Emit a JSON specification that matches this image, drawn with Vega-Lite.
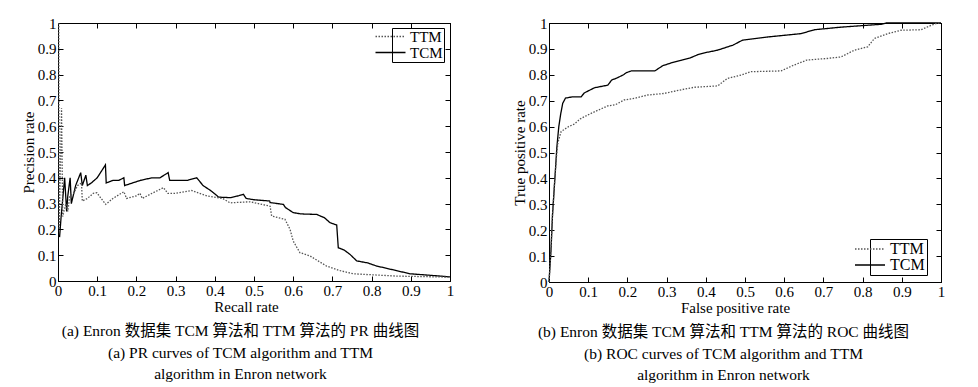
{
  "$schema": "https://vega.github.io/schema/vega-lite/v6.json",
  "background": "white",
  "padding": {"left": 20, "top": 15, "right": 5, "bottom": 0},
  "config": {
    "font": "Liberation Serif, Noto Sans CJK SC",
    "view": {"stroke": "black", "strokeWidth": 1},
    "legend": {
      "strokeColor": "black",
      "fillColor": "white",
      "padding": 1,
      "labelFont": "Liberation Serif",
      "labelFontSize": 15,
      "labelColor": "black",
      "symbolType": "M-5,0H1",
      "symbolSize": 100,
      "symbolStrokeWidth": 1.3,
      "rowPadding": -3,
      "labelOffset": 2,
      "title": null
    },
    "title": {
      "font": "Liberation Serif, Noto Sans CJK SC",
      "fontSize": 15.5,
      "fontWeight": "normal",
      "color": "black",
      "lineHeight": 21.5
    }
  },
  "datasets": {
    "pr": [
      {"i": 1, "m": "TCM", "r": 0.004, "p": 0.17},
      {"i": 2, "m": "TCM", "r": 0.008, "p": 0.25},
      {"i": 3, "m": "TCM", "r": 0.017, "p": 0.40},
      {"i": 4, "m": "TCM", "r": 0.022, "p": 0.27},
      {"i": 5, "m": "TCM", "r": 0.025, "p": 0.33},
      {"i": 6, "m": "TCM", "r": 0.031, "p": 0.40},
      {"i": 7, "m": "TCM", "r": 0.034, "p": 0.30},
      {"i": 8, "m": "TCM", "r": 0.045, "p": 0.37},
      {"i": 9, "m": "TCM", "r": 0.058, "p": 0.42},
      {"i": 10, "m": "TCM", "r": 0.062, "p": 0.37},
      {"i": 11, "m": "TCM", "r": 0.071, "p": 0.41},
      {"i": 12, "m": "TCM", "r": 0.075, "p": 0.37},
      {"i": 13, "m": "TCM", "r": 0.085, "p": 0.38},
      {"i": 14, "m": "TCM", "r": 0.10, "p": 0.40},
      {"i": 15, "m": "TCM", "r": 0.121, "p": 0.45},
      {"i": 16, "m": "TCM", "r": 0.123, "p": 0.38},
      {"i": 17, "m": "TCM", "r": 0.14, "p": 0.39},
      {"i": 18, "m": "TCM", "r": 0.155, "p": 0.39},
      {"i": 19, "m": "TCM", "r": 0.168, "p": 0.40},
      {"i": 20, "m": "TCM", "r": 0.17, "p": 0.37},
      {"i": 21, "m": "TCM", "r": 0.19, "p": 0.38},
      {"i": 22, "m": "TCM", "r": 0.21, "p": 0.39},
      {"i": 23, "m": "TCM", "r": 0.24, "p": 0.40},
      {"i": 24, "m": "TCM", "r": 0.26, "p": 0.40},
      {"i": 25, "m": "TCM", "r": 0.281, "p": 0.42},
      {"i": 26, "m": "TCM", "r": 0.285, "p": 0.39},
      {"i": 27, "m": "TCM", "r": 0.31, "p": 0.39},
      {"i": 28, "m": "TCM", "r": 0.33, "p": 0.39},
      {"i": 29, "m": "TCM", "r": 0.354, "p": 0.40},
      {"i": 30, "m": "TCM", "r": 0.37, "p": 0.37},
      {"i": 31, "m": "TCM", "r": 0.39, "p": 0.35},
      {"i": 32, "m": "TCM", "r": 0.41, "p": 0.325},
      {"i": 33, "m": "TCM", "r": 0.44, "p": 0.323},
      {"i": 34, "m": "TCM", "r": 0.46, "p": 0.33},
      {"i": 35, "m": "TCM", "r": 0.473, "p": 0.336},
      {"i": 36, "m": "TCM", "r": 0.48, "p": 0.32},
      {"i": 37, "m": "TCM", "r": 0.50, "p": 0.315},
      {"i": 38, "m": "TCM", "r": 0.54, "p": 0.31},
      {"i": 39, "m": "TCM", "r": 0.541, "p": 0.304},
      {"i": 40, "m": "TCM", "r": 0.575, "p": 0.297},
      {"i": 41, "m": "TCM", "r": 0.58, "p": 0.285},
      {"i": 42, "m": "TCM", "r": 0.60, "p": 0.265},
      {"i": 43, "m": "TCM", "r": 0.62, "p": 0.26},
      {"i": 44, "m": "TCM", "r": 0.66, "p": 0.258},
      {"i": 45, "m": "TCM", "r": 0.68, "p": 0.245},
      {"i": 46, "m": "TCM", "r": 0.694, "p": 0.226},
      {"i": 47, "m": "TCM", "r": 0.711, "p": 0.217},
      {"i": 48, "m": "TCM", "r": 0.715, "p": 0.129},
      {"i": 49, "m": "TCM", "r": 0.73, "p": 0.12},
      {"i": 50, "m": "TCM", "r": 0.745, "p": 0.103},
      {"i": 51, "m": "TCM", "r": 0.762, "p": 0.078},
      {"i": 52, "m": "TCM", "r": 0.79, "p": 0.07},
      {"i": 53, "m": "TCM", "r": 0.813, "p": 0.058},
      {"i": 54, "m": "TCM", "r": 0.85, "p": 0.045},
      {"i": 55, "m": "TCM", "r": 0.898, "p": 0.028},
      {"i": 56, "m": "TCM", "r": 0.95, "p": 0.022},
      {"i": 57, "m": "TCM", "r": 1.0, "p": 0.016},
      {"i": 101, "m": "TTM", "r": 0.002, "p": 1.0},
      {"i": 102, "m": "TTM", "r": 0.003, "p": 0.20},
      {"i": 103, "m": "TTM", "r": 0.009, "p": 0.67},
      {"i": 104, "m": "TTM", "r": 0.012, "p": 0.25},
      {"i": 105, "m": "TTM", "r": 0.02, "p": 0.30},
      {"i": 106, "m": "TTM", "r": 0.025, "p": 0.27},
      {"i": 107, "m": "TTM", "r": 0.03, "p": 0.33},
      {"i": 108, "m": "TTM", "r": 0.04, "p": 0.34},
      {"i": 109, "m": "TTM", "r": 0.05, "p": 0.37},
      {"i": 110, "m": "TTM", "r": 0.060, "p": 0.38},
      {"i": 111, "m": "TTM", "r": 0.062, "p": 0.31},
      {"i": 112, "m": "TTM", "r": 0.075, "p": 0.32},
      {"i": 113, "m": "TTM", "r": 0.09, "p": 0.34},
      {"i": 114, "m": "TTM", "r": 0.099, "p": 0.342},
      {"i": 115, "m": "TTM", "r": 0.11, "p": 0.32},
      {"i": 116, "m": "TTM", "r": 0.122, "p": 0.297},
      {"i": 117, "m": "TTM", "r": 0.14, "p": 0.32},
      {"i": 118, "m": "TTM", "r": 0.168, "p": 0.346},
      {"i": 119, "m": "TTM", "r": 0.175, "p": 0.32},
      {"i": 120, "m": "TTM", "r": 0.2, "p": 0.33},
      {"i": 121, "m": "TTM", "r": 0.209, "p": 0.34},
      {"i": 122, "m": "TTM", "r": 0.215, "p": 0.32},
      {"i": 123, "m": "TTM", "r": 0.24, "p": 0.34},
      {"i": 124, "m": "TTM", "r": 0.269, "p": 0.362},
      {"i": 125, "m": "TTM", "r": 0.28, "p": 0.34},
      {"i": 126, "m": "TTM", "r": 0.30, "p": 0.34},
      {"i": 127, "m": "TTM", "r": 0.341, "p": 0.351},
      {"i": 128, "m": "TTM", "r": 0.36, "p": 0.34},
      {"i": 129, "m": "TTM", "r": 0.38, "p": 0.33},
      {"i": 130, "m": "TTM", "r": 0.42, "p": 0.32},
      {"i": 131, "m": "TTM", "r": 0.439, "p": 0.303},
      {"i": 132, "m": "TTM", "r": 0.49, "p": 0.307},
      {"i": 133, "m": "TTM", "r": 0.541, "p": 0.29},
      {"i": 134, "m": "TTM", "r": 0.545, "p": 0.252},
      {"i": 135, "m": "TTM", "r": 0.579, "p": 0.239},
      {"i": 136, "m": "TTM", "r": 0.592, "p": 0.20},
      {"i": 137, "m": "TTM", "r": 0.60, "p": 0.155},
      {"i": 138, "m": "TTM", "r": 0.617, "p": 0.11},
      {"i": 139, "m": "TTM", "r": 0.643, "p": 0.097},
      {"i": 140, "m": "TTM", "r": 0.685, "p": 0.058},
      {"i": 141, "m": "TTM", "r": 0.72, "p": 0.04},
      {"i": 142, "m": "TTM", "r": 0.753, "p": 0.028},
      {"i": 143, "m": "TTM", "r": 0.864, "p": 0.019},
      {"i": 144, "m": "TTM", "r": 1.0, "p": 0.015}
    ],
    "roc": [
      {"i": 1, "m": "TCM", "f": 0, "t": 0},
      {"i": 2, "m": "TCM", "f": 0.005, "t": 0.12},
      {"i": 3, "m": "TCM", "f": 0.009, "t": 0.26},
      {"i": 4, "m": "TCM", "f": 0.015, "t": 0.40},
      {"i": 5, "m": "TCM", "f": 0.02, "t": 0.52},
      {"i": 6, "m": "TCM", "f": 0.025, "t": 0.60},
      {"i": 7, "m": "TCM", "f": 0.03, "t": 0.65},
      {"i": 8, "m": "TCM", "f": 0.035, "t": 0.69},
      {"i": 9, "m": "TCM", "f": 0.042, "t": 0.71},
      {"i": 10, "m": "TCM", "f": 0.06, "t": 0.715},
      {"i": 11, "m": "TCM", "f": 0.082, "t": 0.715},
      {"i": 12, "m": "TCM", "f": 0.09, "t": 0.73},
      {"i": 13, "m": "TCM", "f": 0.116, "t": 0.75},
      {"i": 14, "m": "TCM", "f": 0.15, "t": 0.76},
      {"i": 15, "m": "TCM", "f": 0.16, "t": 0.78},
      {"i": 16, "m": "TCM", "f": 0.171, "t": 0.786},
      {"i": 17, "m": "TCM", "f": 0.19, "t": 0.80},
      {"i": 18, "m": "TCM", "f": 0.197, "t": 0.808},
      {"i": 19, "m": "TCM", "f": 0.21, "t": 0.815},
      {"i": 20, "m": "TCM", "f": 0.27, "t": 0.815},
      {"i": 21, "m": "TCM", "f": 0.29, "t": 0.835},
      {"i": 22, "m": "TCM", "f": 0.31, "t": 0.845},
      {"i": 23, "m": "TCM", "f": 0.337, "t": 0.856},
      {"i": 24, "m": "TCM", "f": 0.36, "t": 0.865},
      {"i": 25, "m": "TCM", "f": 0.38, "t": 0.878},
      {"i": 26, "m": "TCM", "f": 0.397, "t": 0.885},
      {"i": 27, "m": "TCM", "f": 0.43, "t": 0.895},
      {"i": 28, "m": "TCM", "f": 0.45, "t": 0.905},
      {"i": 29, "m": "TCM", "f": 0.47, "t": 0.915},
      {"i": 30, "m": "TCM", "f": 0.494, "t": 0.934},
      {"i": 31, "m": "TCM", "f": 0.558, "t": 0.946},
      {"i": 32, "m": "TCM", "f": 0.643, "t": 0.959},
      {"i": 33, "m": "TCM", "f": 0.677, "t": 0.974},
      {"i": 34, "m": "TCM", "f": 0.745, "t": 0.984},
      {"i": 35, "m": "TCM", "f": 0.847, "t": 0.995},
      {"i": 36, "m": "TCM", "f": 0.86, "t": 1.0},
      {"i": 37, "m": "TCM", "f": 1.0, "t": 1.0},
      {"i": 101, "m": "TTM", "f": 0, "t": 0},
      {"i": 102, "m": "TTM", "f": 0.005, "t": 0.12},
      {"i": 103, "m": "TTM", "f": 0.009, "t": 0.26},
      {"i": 104, "m": "TTM", "f": 0.015, "t": 0.40},
      {"i": 105, "m": "TTM", "f": 0.02, "t": 0.50},
      {"i": 106, "m": "TTM", "f": 0.023, "t": 0.54},
      {"i": 107, "m": "TTM", "f": 0.031, "t": 0.581},
      {"i": 108, "m": "TTM", "f": 0.05, "t": 0.60},
      {"i": 109, "m": "TTM", "f": 0.065, "t": 0.61},
      {"i": 110, "m": "TTM", "f": 0.08, "t": 0.63},
      {"i": 111, "m": "TTM", "f": 0.099, "t": 0.645},
      {"i": 112, "m": "TTM", "f": 0.12, "t": 0.66},
      {"i": 113, "m": "TTM", "f": 0.15, "t": 0.68},
      {"i": 114, "m": "TTM", "f": 0.17, "t": 0.685},
      {"i": 115, "m": "TTM", "f": 0.192, "t": 0.703},
      {"i": 116, "m": "TTM", "f": 0.22, "t": 0.71},
      {"i": 117, "m": "TTM", "f": 0.252, "t": 0.722},
      {"i": 118, "m": "TTM", "f": 0.294, "t": 0.728},
      {"i": 119, "m": "TTM", "f": 0.33, "t": 0.74},
      {"i": 120, "m": "TTM", "f": 0.371, "t": 0.752},
      {"i": 121, "m": "TTM", "f": 0.43, "t": 0.757},
      {"i": 122, "m": "TTM", "f": 0.455, "t": 0.786},
      {"i": 123, "m": "TTM", "f": 0.49, "t": 0.799},
      {"i": 124, "m": "TTM", "f": 0.515, "t": 0.812},
      {"i": 125, "m": "TTM", "f": 0.592, "t": 0.815},
      {"i": 126, "m": "TTM", "f": 0.624, "t": 0.837},
      {"i": 127, "m": "TTM", "f": 0.658, "t": 0.857},
      {"i": 128, "m": "TTM", "f": 0.709, "t": 0.863},
      {"i": 129, "m": "TTM", "f": 0.745, "t": 0.869},
      {"i": 130, "m": "TTM", "f": 0.779, "t": 0.895},
      {"i": 131, "m": "TTM", "f": 0.813, "t": 0.908},
      {"i": 132, "m": "TTM", "f": 0.83, "t": 0.94},
      {"i": 133, "m": "TTM", "f": 0.864, "t": 0.959},
      {"i": 134, "m": "TTM", "f": 0.898, "t": 0.972},
      {"i": 135, "m": "TTM", "f": 0.949, "t": 0.974},
      {"i": 136, "m": "TTM", "f": 0.975, "t": 0.991},
      {"i": 137, "m": "TTM", "f": 0.992, "t": 1.0},
      {"i": 138, "m": "TTM", "f": 1.0, "t": 1.0}
    ]
  },
  "resolve": {"scale": {"color": "independent", "strokeDash": "independent"}, "legend": {"color": "independent", "strokeDash": "independent"}},
  "spacing": 56,
  "hconcat": [
    {
      "width": 392,
      "height": 258,
      "data": {"name": "pr"},
      "title": {
        "text": ["(a) Enron 数据集 TCM 算法和 TTM 算法的 PR 曲线图", "(a) PR curves of  TCM algorithm and TTM", "algorithm in Enron network"],
        "orient": "bottom",
        "anchor": "middle",
        "frame": "bounds",
        "offset": 10,
        "dx": 3
      },
      "layer": [
        {
          "mark": {"type": "line", "strokeWidth": 1.3},
          "encoding": {
            "x": {"field": "r", "type": "quantitative", "scale": {"domain": [0, 1], "nice": false},
                  "axis": {"title": "Recall rate", "titleX": 188, "titlePadding": 1, "values": [0, 0.1, 0.2, 0.3, 0.4, 0.5, 0.6, 0.7, 0.8, 0.9, 1], "format": ".1~f", "labelFont": "Liberation Serif", "labelFontSize": 15, "labelColor": "black", "titleFont": "Liberation Serif", "titleFontSize": 15, "titleFontWeight": "normal", "titleColor": "black", "tickColor": "black", "domainColor": "black", "grid": false, "tickSize": -5, "labelPadding": 7, "labelFlush": false, "labelOverlap": false}},
            "y": {"field": "p", "type": "quantitative", "scale": {"domain": [0, 1], "nice": false},
                  "axis": {"title": "Precision rate", "titlePadding": 1, "values": [0, 0.1, 0.2, 0.3, 0.4, 0.5, 0.6, 0.7, 0.8, 0.9, 1], "format": ".1~f", "labelFont": "Liberation Serif", "labelFontSize": 15, "labelColor": "black", "titleFont": "Liberation Serif", "titleFontSize": 15, "titleFontWeight": "normal", "titleColor": "black", "tickColor": "black", "domainColor": "black", "grid": false, "tickSize": -5, "labelPadding": 7, "labelFlush": false, "labelOverlap": false}},
            "order": {"field": "i", "type": "quantitative"},
            "color": {"field": "m", "type": "nominal",
                      "scale": {"domain": ["TTM", "TCM"], "range": ["#555555", "#000000"]},
                      "legend": {"orient": "none", "legendX": 334, "legendY": 5}},
            "strokeDash": {"field": "m", "type": "nominal",
                      "scale": {"domain": ["TTM", "TCM"], "range": [[1.5, 1.5], [1, 0]]},
                      "legend": {"orient": "none", "legendX": 334, "legendY": 5}}
          }
        },
        {
          "mark": {"type": "point", "opacity": 0},
          "encoding": {
            "x": {"field": "r", "type": "quantitative", "axis": {"orient": "top", "labels": false, "title": null, "values": [0, 0.1, 0.2, 0.3, 0.4, 0.5, 0.6, 0.7, 0.8, 0.9, 1], "tickSize": -5, "tickColor": "black", "domainColor": "black", "grid": false}},
            "y": {"field": "p", "type": "quantitative", "axis": {"orient": "right", "labels": false, "title": null, "values": [0, 0.1, 0.2, 0.3, 0.4, 0.5, 0.6, 0.7, 0.8, 0.9, 1], "tickSize": -5, "tickColor": "black", "domainColor": "black", "grid": false}}
          }
        }
      ],
      "resolve": {"axis": {"x": "independent", "y": "independent"}}
    },
    {
      "width": 392,
      "height": 259,
      "data": {"name": "roc"},
      "title": {
        "text": ["(b) Enron 数据集 TCM 算法和 TTM 算法的 ROC 曲线图", "(b) ROC curves of  TCM algorithm and TTM", "algorithm in Enron network"],
        "orient": "bottom",
        "anchor": "middle",
        "frame": "bounds",
        "offset": 10,
        "dx": -5
      },
      "layer": [
        {
          "mark": {"type": "line", "strokeWidth": 1.3},
          "encoding": {
            "x": {"field": "f", "type": "quantitative", "scale": {"domain": [0, 1], "nice": false},
                  "axis": {"title": "False positive rate", "titleX": 186, "titlePadding": 1, "values": [0, 0.1, 0.2, 0.3, 0.4, 0.5, 0.6, 0.7, 0.8, 0.9, 1], "format": ".1~f", "labelFont": "Liberation Serif", "labelFontSize": 15, "labelColor": "black", "titleFont": "Liberation Serif", "titleFontSize": 15, "titleFontWeight": "normal", "titleColor": "black", "tickColor": "black", "domainColor": "black", "grid": false, "tickSize": -5, "labelPadding": 7, "labelFlush": false, "labelOverlap": false}},
            "y": {"field": "t", "type": "quantitative", "scale": {"domain": [0, 1], "nice": false},
                  "axis": {"title": "True positive rate", "titlePadding": 1, "values": [0, 0.1, 0.2, 0.3, 0.4, 0.5, 0.6, 0.7, 0.8, 0.9, 1], "format": ".1~f", "labelFont": "Liberation Serif", "labelFontSize": 15, "labelColor": "black", "titleFont": "Liberation Serif", "titleFontSize": 15, "titleFontWeight": "normal", "titleColor": "black", "tickColor": "black", "domainColor": "black", "grid": false, "tickSize": -5, "labelPadding": 7, "labelFlush": false, "labelOverlap": false}},
            "order": {"field": "i", "type": "quantitative"},
            "color": {"field": "m", "type": "nominal",
                      "scale": {"domain": ["TTM", "TCM"], "range": ["#555555", "#000000"]},
                      "legend": {"orient": "none", "legendX": 321, "legendY": 216, "labelFontSize": 16, "rowPadding": -2, "padding": 2}},
            "strokeDash": {"field": "m", "type": "nominal",
                      "scale": {"domain": ["TTM", "TCM"], "range": [[1.5, 1.5], [1, 0]]},
                      "legend": {"orient": "none", "legendX": 321, "legendY": 216, "labelFontSize": 16, "rowPadding": -2, "padding": 2}}
          }
        },
        {
          "mark": {"type": "point", "opacity": 0},
          "encoding": {
            "x": {"field": "f", "type": "quantitative", "axis": {"orient": "top", "labels": false, "title": null, "values": [0, 0.1, 0.2, 0.3, 0.4, 0.5, 0.6, 0.7, 0.8, 0.9, 1], "tickSize": -5, "tickColor": "black", "domainColor": "black", "grid": false}},
            "y": {"field": "t", "type": "quantitative", "axis": {"orient": "right", "labels": false, "title": null, "values": [0, 0.1, 0.2, 0.3, 0.4, 0.5, 0.6, 0.7, 0.8, 0.9, 1], "tickSize": -5, "tickColor": "black", "domainColor": "black", "grid": false}}
          }
        }
      ],
      "resolve": {"axis": {"x": "independent", "y": "independent"}}
    }
  ]
}
